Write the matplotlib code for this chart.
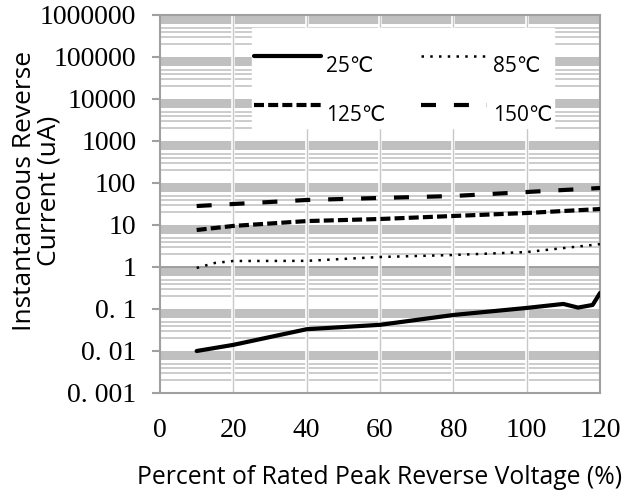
import matplotlib.pyplot as plt
from matplotlib.legend_handler import HandlerLine2D
import numpy as np

# --- data ---
x_25 = [10, 20, 40, 60, 80, 100, 110, 114, 118, 120]
i_25 = [0.010, 0.014, 0.033, 0.042, 0.072, 0.106, 0.132, 0.108, 0.125, 0.24]

x_85 = [10, 15, 20, 40, 60, 80, 100, 120]
i_85 = [0.95, 1.25, 1.39, 1.4, 1.73, 1.93, 2.27, 3.5]

x_125 = [10, 20, 40, 60, 80, 100, 120]
i_125 = [7.6, 9.5, 12.4, 13.9, 16.4, 19.3, 24]

x_150 = [10, 20, 40, 60, 80, 100, 120]
i_150 = [28.3, 31.6, 39.4, 44, 49, 61, 76]

y_ticks = [0.001, 0.01, 0.1, 1, 10, 100, 1000, 10000, 100000, 1000000]
y_ticklabels = ["0. 001", "0. 01", "0. 1", "1", "10", "100", "1000",
                "10000", "100000", "1000000"]
x_ticks = [0, 20, 40, 60, 80, 100, 120]


class RaisedLine(HandlerLine2D):
    # legend line sits above the text centre, as in the source chart
    def create_artists(self, legend, orig_handle, xdescent, ydescent,
                       width, height, fontsize, trans):
        arts = super().create_artists(legend, orig_handle, xdescent, ydescent,
                                      width, height, fontsize, trans)
        for a in arts:
            a.set_ydata(np.asarray(a.get_ydata()) + 0.6 * height)
        return arts


fig = plt.figure(figsize=(6.3, 4.97), dpi=100)
ax = fig.add_axes([160 / 630, 104 / 497, 440 / 630, 378 / 497])
ax.set_yscale("log")
ax.set_xlim(0, 120)
ax.set_ylim(0.001, 1000000)

# background grid: solid gray band at the top of each decade, thin lines below
for dec in range(-3, 6):
    ax.axhspan(6 * 10.0 ** dec, 10.0 ** (dec + 1), color="#c0c0c0", lw=0,
               zorder=0.4)
    for m in range(2, 6):
        ax.axhline(m * 10.0 ** dec, color="#c4c4c4", lw=1.2, zorder=0.5)
ax.axhline(1, color="#9a9a9a", lw=1.3, zorder=0.6)
for xv in x_ticks[1:-1]:
    ax.axvline(xv, color="white", lw=2.6, zorder=0.7)
    ax.axvline(xv, color="#c8c8c8", lw=1.0, zorder=0.8)

# series
l25, = ax.plot(x_25, i_25, color="black", lw=3.0, solid_capstyle="round",
               label="25\u2103", zorder=3)
l85, = ax.plot(x_85, i_85, color="black", lw=1.8, linestyle=(0, (1.0, 2.5)),
               label="85\u2103", zorder=3)
l125, = ax.plot(x_125, i_125, color="black", lw=3.0, linestyle=(0, (2.4, 1.0)),
                label="125\u2103", zorder=3)
l150, = ax.plot(x_150, i_150, color="black", lw=3.0, linestyle=(0, (3.6, 4.3)),
                label="150\u2103", zorder=3)

# axes styling
for s in ax.spines.values():
    s.set_color("#a0a0a0")
    s.set_linewidth(1.5)
ax.set_yticks(y_ticks)
ax.set_yticklabels(y_ticklabels)
ax.yaxis.set_minor_locator(plt.NullLocator())
ax.set_xticks(x_ticks)
ax.tick_params(axis="y", length=6, width=1.5, color="#a0a0a0", pad=11,
               labelsize=20)
ax.tick_params(axis="x", length=0, pad=18, labelsize=20)
for lab in ax.get_xticklabels() + ax.get_yticklabels():
    lab.set_family("Liberation Serif")

ax.set_xlabel("Percent of Rated Peak Reverse Voltage (%)", fontsize=17.8,
              family="Open Sans", labelpad=16)
ax.set_ylabel("Instantaneous Reverse\nCurrent (uA)", fontsize=19,
              family="Open Sans", linespacing=0.95)
ax.yaxis.set_label_coords(-0.225, 0.535)

leg = ax.legend([l25, l125, l85, l150],
                ["25\u2103", "125\u2103", "85\u2103", "150\u2103"],
                ncol=2, loc="upper left",
                bbox_to_anchor=(92 / 440, 1 - 13 / 378),
                handler_map={l: RaisedLine() for l in [l25, l85, l125, l150]},
                title=" ", title_fontsize=4,
                frameon=True, fancybox=False, edgecolor="white",
                facecolor="white", framealpha=1.0,
                prop={"family": ["Open Sans", "DejaVu Sans"], "size": 15},
                handlelength=3.2, handletextpad=0.25, columnspacing=1.7,
                labelspacing=1.35, borderpad=0.1, borderaxespad=0)
leg._legend_box.sep = 15  # extra room above the first row only
leg.set_zorder(5)

fig.savefig("out.png", dpi=100)
